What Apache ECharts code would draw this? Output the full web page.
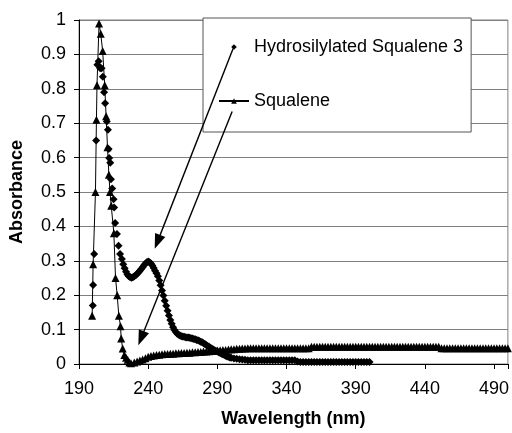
<!DOCTYPE html>
<html>
<head>
<meta charset="utf-8">
<script src="https://cdn.jsdelivr.net/npm/echarts@6/dist/echarts.min.js"></script>
<style>
  html, body { margin: 0; padding: 0; background: #fff; }
  #chart { width: 512px; height: 433px; }
</style>
</head>
<body>
<div id="chart"></div>
<script>
// ---- Data ----
const xTickLabels = [190, 240, 290, 340, 390, 440, 490];
const yTickLabels = [0, 0.1, 0.2, 0.3, 0.4, 0.5, 0.6, 0.7, 0.8, 0.9, 1];

const hydroName = 'Hydrosilylated Squalene 3';
const squaleneName = 'Squalene';

const hydroWl = [
  200.0, 200.2, 201.0, 202.4, 203.3, 204.2, 205.3, 206.3, 207.2, 208.1, 208.9, 210.1, 210.9, 211.4, 211.8,
  212.6, 213.1, 214.0, 215.0, 215.4, 216.1, 217.4, 218.6, 219.7,
  221, 222, 223, 224, 225, 226, 227, 228, 229, 230, 231, 232, 233, 234, 235, 236, 237, 238, 239, 240,
  241, 242, 243, 244, 245, 246, 247, 248, 249, 250, 251, 252, 253, 254, 255, 256, 257, 258, 259, 260,
  261, 262, 263, 264, 265, 266, 267, 268, 269, 270, 271, 272, 273, 274, 275, 276, 277, 278, 279, 280,
  281, 282, 283, 284, 285, 286, 287, 288, 289, 290, 291, 292, 293, 294, 295, 296, 297, 298, 299, 300,
  302, 304, 306, 308, 310, 312, 314, 316, 318, 320, 322, 324, 326, 328, 330, 332, 334, 336, 338, 340,
  342, 344, 346, 348, 350, 352, 354, 356, 358, 360, 362, 364, 366, 368, 370, 372, 374, 376, 378, 380,
  382, 384, 386, 388, 390, 392, 394, 396, 398, 400
];
const hydroAbs = [
  0.17, 0.23, 0.32, 0.65, 0.87, 0.88, 0.86, 0.86, 0.835, 0.79, 0.758, 0.705, 0.681, 0.625, 0.599,
  0.585, 0.537, 0.51, 0.479, 0.455, 0.41, 0.378, 0.344, 0.32,
  0.305, 0.29, 0.278, 0.268, 0.26, 0.255, 0.252, 0.251, 0.252, 0.255, 0.258, 0.262, 0.266, 0.271, 0.276, 0.281, 0.287, 0.292, 0.296, 0.298,
  0.296, 0.292, 0.286, 0.279, 0.271, 0.264, 0.255, 0.243, 0.229, 0.214, 0.199, 0.184, 0.169, 0.155, 0.141, 0.128, 0.117, 0.107, 0.099, 0.093,
  0.088, 0.085, 0.083, 0.081, 0.080, 0.079, 0.078, 0.077, 0.077, 0.076, 0.075, 0.074, 0.073, 0.072, 0.070, 0.069, 0.067, 0.065, 0.063, 0.060,
  0.058, 0.055, 0.052, 0.050, 0.047, 0.045, 0.042, 0.040, 0.038, 0.036, 0.034, 0.032, 0.030, 0.028, 0.026, 0.024, 0.022, 0.021, 0.019, 0.018,
  0.016, 0.015, 0.014, 0.013, 0.012, 0.011, 0.011, 0.011, 0.011, 0.011, 0.011, 0.011, 0.011, 0.011, 0.011, 0.011, 0.011, 0.011, 0.011, 0.011,
  0.011, 0.011, 0.011, 0.007, 0.006, 0.006, 0.006, 0.006, 0.006, 0.006, 0.006, 0.006, 0.006, 0.006, 0.006, 0.006, 0.006, 0.006, 0.006, 0.006,
  0.006, 0.006, 0.006, 0.006, 0.006, 0.006, 0.006, 0.006, 0.006, 0.006
];

const squaleneWl = [
  199.5, 200.2, 201.9, 202.6, 203.0, 204.5, 205.7, 207.1, 208.6, 209.6, 210.6, 211.6, 212.4, 213.3,
  215.2, 216.4, 217.6, 218.8, 220.0, 220.5, 221.6, 222.8, 224.0, 225.2, 226.4, 227.6,
  230, 232, 234, 236, 238, 240, 242, 244, 246, 248, 250, 252, 254, 256, 258, 260, 262, 264, 266, 268,
  270, 272, 274, 276, 278, 280, 282, 284, 286, 288, 290, 292, 294, 296, 298, 300, 302, 304, 306, 308, 310,
  312, 314, 316, 318, 320, 322, 324, 326, 328, 330, 332, 334, 336, 338, 340, 342, 344, 346, 348, 350, 352, 354, 356,
  358, 360, 362, 364, 366, 368, 370, 372, 374, 376, 378, 380, 382, 384, 386, 388, 390, 392, 394, 396, 398, 400,
  402, 404, 406, 408, 410, 412, 414, 416, 418, 420, 422, 424, 426, 428, 430, 432, 434, 436, 438, 440,
  442, 444, 446, 448, 450,
  452, 454, 456, 458, 460, 462, 464, 466, 468, 470, 472, 474, 476, 478, 480, 482, 484, 486, 488, 490,
  492, 494, 496, 498, 500
];
const squaleneAbs = [
  0.14, 0.29, 0.50, 0.71, 0.81, 0.99, 0.96, 0.91, 0.81, 0.72, 0.63, 0.55, 0.50, 0.46,
  0.38, 0.25, 0.20, 0.14, 0.11, 0.074, 0.045, 0.026, 0.018, 0.012, 0.004, 0.002,
  0.004, 0.007, 0.010, 0.013, 0.017, 0.021, 0.023, 0.025, 0.026, 0.027, 0.028, 0.029, 0.029, 0.030, 0.030, 0.031, 0.031, 0.032, 0.032, 0.033,
  0.033, 0.034, 0.034, 0.035, 0.035, 0.036, 0.036, 0.037, 0.038, 0.038, 0.039, 0.040, 0.041, 0.041, 0.042, 0.043, 0.043, 0.044, 0.044, 0.045, 0.045,
  0.046, 0.046, 0.046, 0.046, 0.046, 0.046, 0.046, 0.046, 0.046, 0.046, 0.046, 0.046, 0.046, 0.046, 0.046, 0.046, 0.046, 0.046, 0.046, 0.046, 0.046, 0.046, 0.046,
  0.050, 0.050, 0.050, 0.050, 0.050, 0.050, 0.050, 0.050, 0.050, 0.050, 0.050, 0.050, 0.050, 0.050, 0.050, 0.050, 0.050, 0.050, 0.050, 0.050, 0.050, 0.050,
  0.050, 0.050, 0.050, 0.050, 0.050, 0.050, 0.050, 0.050, 0.050, 0.050, 0.050, 0.050, 0.050, 0.050, 0.050, 0.050, 0.050, 0.050, 0.050, 0.050,
  0.050, 0.050, 0.050, 0.050, 0.050,
  0.046, 0.046, 0.046, 0.046, 0.046, 0.046, 0.046, 0.046, 0.046, 0.046, 0.046, 0.046, 0.046, 0.046, 0.046, 0.046, 0.046, 0.046, 0.046, 0.046,
  0.046, 0.046, 0.046, 0.046, 0.046
];

// Annotation arrows (data coordinates): from legend markers to curves
const arrowFrom = [[301.4, 0.917], [300.7, 0.734]];
const arrowTo = [[246.7, 0.355], [234.9, 0.075]];

// ---- Build series data ----
const zip = (xs, ys) => xs.map((x, i) => [x, ys[i]]);
const hydroData = zip(hydroWl, hydroAbs);
const squaleneData = zip(squaleneWl, squaleneAbs);

const FONT = '"Liberation Sans", Arial, sans-serif';

const chart = echarts.init(document.getElementById('chart'), null, { renderer: 'canvas' });
chart.setOption({
  animation: false,
  backgroundColor: '#ffffff',
  textStyle: { fontFamily: FONT, color: '#000' },
  grid: {
    left: 77, right: 3, top: 20, bottom: 67,
    show: true, borderColor: '#808080', borderWidth: 1, backgroundColor: 'transparent'
  },
  legend: {
    orient: 'vertical',
    left: 203, top: 18,
    padding: [20, 8, 22, 15],
    itemGap: 36,
    itemWidth: 30, itemHeight: 7,
    selectedMode: false,
    backgroundColor: '#ffffff',
    borderColor: '#555555', borderWidth: 1,
    textStyle: { fontFamily: FONT, fontSize: 18, color: '#000' },
    data: [
      { name: hydroName, lineStyle: { opacity: 0 } },
      { name: squaleneName }
    ]
  },
  xAxis: {
    type: 'value',
    min: 190, max: 500, interval: 50,
    name: 'Wavelength (nm)',
    nameLocation: 'middle',
    nameGap: 46,
    nameTextStyle: { fontFamily: FONT, fontSize: 18, fontWeight: 'bold', color: '#000' },
    axisLine: { show: true, lineStyle: { color: '#000', width: 1 } },
    axisTick: { show: true, inside: false, length: 5, lineStyle: { color: '#000' } },
    axisLabel: {
      fontFamily: FONT, fontSize: 18, color: '#000', margin: 16,
      formatter: v => (xTickLabels.indexOf(v) >= 0 ? String(v) : '')
    },
    splitLine: { show: false }
  },
  yAxis: {
    type: 'value',
    min: 0, max: 1, interval: 0.1,
    name: 'Absorbance',
    nameLocation: 'middle',
    nameGap: 53,
    nameTextStyle: { fontFamily: FONT, fontSize: 18, fontWeight: 'bold', color: '#000' },
    axisLine: { show: true, lineStyle: { color: '#000', width: 1 } },
    axisTick: { show: true, inside: false, length: 5, lineStyle: { color: '#000' } },
    axisLabel: {
      fontFamily: FONT, fontSize: 18, color: '#000', margin: 13,
      formatter: v => {
        const r = Math.round(v * 10) / 10;
        return yTickLabels.indexOf(r) >= 0 ? String(r) : '';
      }
    },
    splitLine: { show: true, lineStyle: { color: '#808080', width: 1 } }
  },
  series: [
    {
      name: hydroName,
      type: 'line',
      data: hydroData,
      symbol: 'diamond',
      symbolSize: 8,
      showAllSymbol: true,
      silent: true,
      itemStyle: { color: '#000' },
      lineStyle: { color: '#000', width: 1, opacity: 0 },
      emphasis: { disabled: true },
      z: 3
    },
    {
      name: squaleneName,
      type: 'line',
      data: squaleneData,
      symbol: 'triangle',
      symbolSize: 8,
      showAllSymbol: true,
      silent: true,
      itemStyle: { color: '#000' },
      lineStyle: { color: '#000', width: 1 },
      emphasis: { disabled: true },
      z: 3,
      markLine: {
        silent: true,
        symbol: ['none', 'triangle'],
        symbolSize: [11, 15],
        label: { show: false },
        emphasis: { disabled: true },
        lineStyle: { color: '#000', width: 1.4, type: 'solid' },
        z: 6,
        data: arrowFrom.map((f, i) => [{ coord: f }, { coord: arrowTo[i] }])
      }
    }
  ]
});
</script>
</body>
</html>
